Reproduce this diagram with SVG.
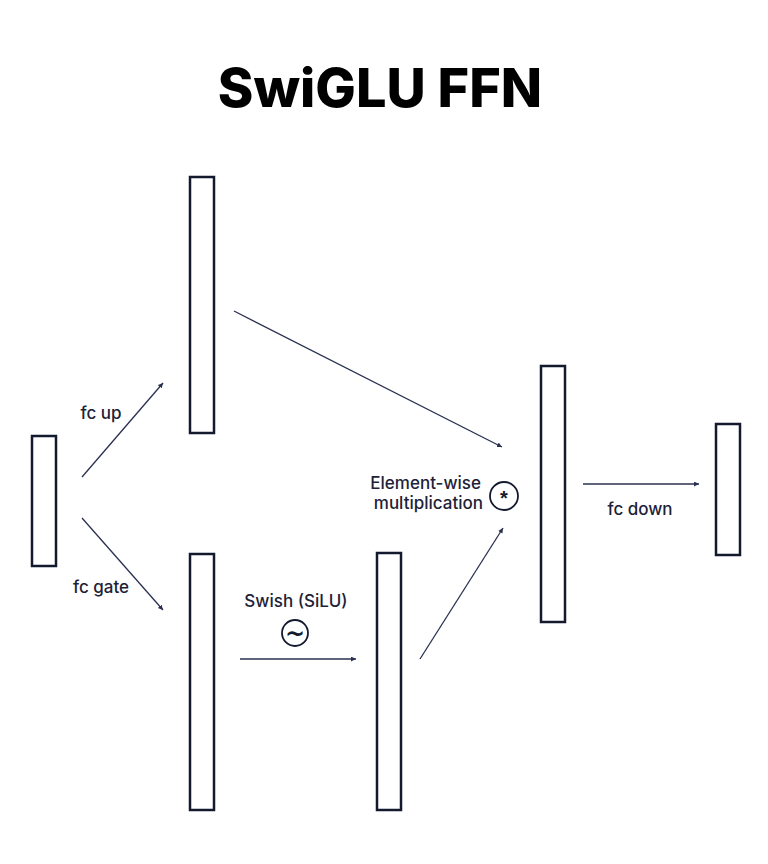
<svg xmlns="http://www.w3.org/2000/svg" width="768" height="864" viewBox="0 0 768 864">
<style>
.box{fill:#fff;stroke:#141a2e;stroke-width:2.5}
.ln{stroke:#2a3050;stroke-width:1.3;fill:none;marker-end:url(#ah)}
.lbl{font-family:"Inter","Liberation Sans",sans-serif;font-size:17px;fill:#1d2238;font-weight:500}
.title{font-family:"Inter","Liberation Sans",sans-serif;font-size:54px;font-weight:800;fill:#000}
.op{fill:#fff;stroke:#141a2e;stroke-width:1.8}
</style>
<defs>
<marker id="ah" markerWidth="8" markerHeight="8" refX="5" refY="2.5" orient="auto" markerUnits="userSpaceOnUse">
<path d="M0,0 L5,2.5 L0,5 z" fill="#2a3050"/>
</marker>
</defs>
<rect width="768" height="864" fill="#fff"/>
<text class="title" x="380" y="107" text-anchor="middle">SwiGLU FFN</text>
<g id="input"><rect class="box" x="32" y="436" width="24" height="130"/></g>
<g id="up"><rect class="box" x="190" y="177" width="24" height="256"/></g>
<g id="gate"><rect class="box" x="190" y="554" width="24" height="256"/></g>
<g id="silu"><rect class="box" x="377" y="553" width="24" height="257"/></g>
<g id="mult"><rect class="box" x="541" y="366" width="24" height="256"/></g>
<g id="output"><rect class="box" x="716" y="424" width="24" height="131"/></g>
<g id="connectors">
<line class="ln" x1="82" y1="477" x2="163" y2="383"/>
<line class="ln" x1="82" y1="518" x2="163" y2="610"/>
<line class="ln" x1="240" y1="659" x2="356" y2="659"/>
<line class="ln" x1="234" y1="311" x2="502" y2="447"/>
<line class="ln" x1="420" y1="659" x2="503" y2="528"/>
<line class="ln" x1="583" y1="484" x2="699" y2="484"/>
</g>
<g id="labels">
<text class="lbl" x="101" y="419" text-anchor="middle">fc up</text>
<text class="lbl" x="101" y="593" text-anchor="middle">fc gate</text>
<text class="lbl" x="296" y="607" text-anchor="middle">Swish (SiLU)</text>
<circle class="op" cx="295" cy="633" r="13"/>
<text x="295" y="642" text-anchor="middle" font-family="DejaVu Sans, sans-serif" font-size="24" font-weight="bold" fill="#141a2e">~</text>
<text class="lbl" x="481" y="489" text-anchor="end">Element-wise</text>
<text class="lbl" x="483" y="509" text-anchor="end">multiplication</text>
<circle class="op" cx="504" cy="496" r="14"/>
<text x="504" y="505" text-anchor="middle" font-family="Liberation Sans, sans-serif" font-size="20" font-weight="bold" fill="#141a2e">*</text>
<text class="lbl" x="640" y="515" text-anchor="middle">fc down</text>
</g>
</svg>
